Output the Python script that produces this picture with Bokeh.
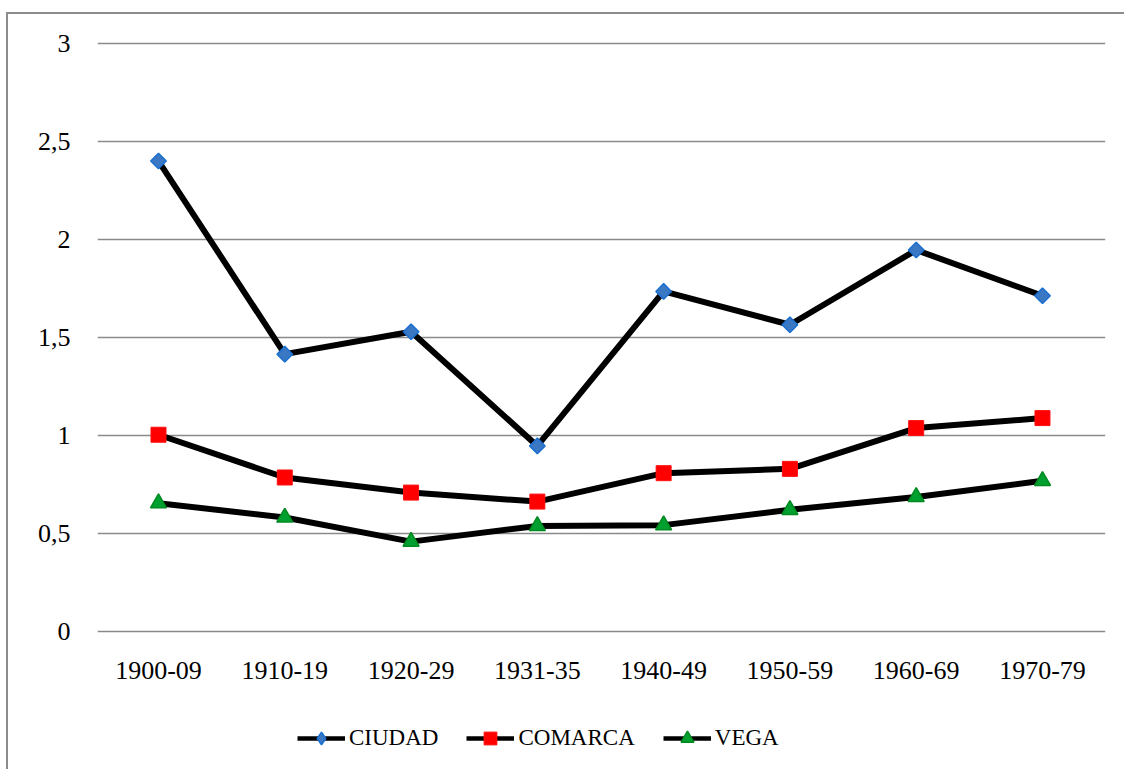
import math
from bokeh.plotting import figure
from bokeh.layouts import column
from bokeh.models import Range1d, FixedTicker, Legend, LegendItem
from bokeh.embed import file_html
from bokeh.resources import INLINE

periods = ["1900-09", "1910-19", "1920-29", "1931-35", "1940-49", "1950-59", "1960-69", "1970-79"]
ciudad = [2.40, 1.415, 1.529, 0.947, 1.735, 1.565, 1.946, 1.713]
comarca = [1.004, 0.786, 0.709, 0.663, 0.808, 0.830, 1.038, 1.089]
vega = [0.655, 0.582, 0.459, 0.539, 0.543, 0.621, 0.687, 0.769]
series_names = ["CIUDAD", "COMARCA", "VEGA"]
y_ticks = [0, 0.5, 1, 1.5, 2, 2.5, 3]
y_labels = {0: "0", 0.5: "0,5", 1: "1", 1.5: "1,5", 2: "2", 2.5: "2,5", 3: "3"}

xs = list(range(len(periods)))
FONT = "Liberation Serif"
LW = 6

styles = [
    dict(marker="square", angle=math.pi / 4, size=11, fill_color="#3b78c4", line_color="#1a6fd0", line_width=1.5),
    dict(marker="square", angle=0.0, size=15, fill_color="#ff0000", line_color="#ff1010", line_width=1),
    dict(marker="triangle", angle=0.0, size=16, fill_color="#00a030", line_color="#008a20", line_width=1.5),
]
legend_styles = [
    dict(marker="diamond", size=14, fill_color="#3b78c4", line_color="#1a6fd0", line_width=1.5),
    dict(marker="square", size=14, fill_color="#ff0000", line_color="#ff1010", line_width=1),
    dict(marker="triangle", size=14, fill_color="#00a030", line_color="#008a20", line_width=1.5),
]
all_series = [ciudad, comarca, vega]

# ---------------- main chart ----------------
p = figure(width=1116, height=676, output_backend="svg", toolbar_location=None,
           x_range=Range1d(-0.483, 7.499), y_range=Range1d(-0.025, 3.025),
           min_border_left=89, min_border_right=19, min_border_top=24, min_border_bottom=54)
p.outline_line_color = None
p.background_fill_color = "white"
p.border_fill_color = "white"

p.xaxis.ticker = FixedTicker(ticks=xs)
p.xaxis.major_label_overrides = {i: s for i, s in enumerate(periods)}
p.yaxis.ticker = FixedTicker(ticks=y_ticks)
p.yaxis.major_label_overrides = y_labels
for ax in (p.xaxis, p.yaxis):
    ax.axis_line_color = None
    ax.major_tick_line_color = None
    ax.minor_tick_line_color = None
    ax.major_tick_in = 0
    ax.major_tick_out = 0
    ax.major_label_text_font = FONT
    ax.major_label_text_font_size = "26px"
    ax.major_label_text_color = "black"
p.xaxis.major_label_standoff = 25
p.yaxis.major_label_standoff = 27

p.xgrid.grid_line_color = None
p.ygrid.ticker = FixedTicker(ticks=y_ticks)
p.ygrid.grid_line_color = "#8a8a8a"
p.ygrid.grid_line_width = 1.6

for vals, st in zip(all_series, styles):
    p.line(xs, vals, line_color="black", line_width=LW)
    p.scatter(xs, vals, **st)

# ---------------- legend strip ----------------
# proxy renderers use the real data but lie outside this strip's view
q = figure(width=1116, height=79, output_backend="svg", toolbar_location=None,
           x_range=Range1d(100, 101), y_range=Range1d(100, 101),
           x_axis_type=None, y_axis_type=None,
           min_border_left=0, min_border_right=0, min_border_top=0, min_border_bottom=0)
q.outline_line_color = None
q.xgrid.visible = False
q.ygrid.visible = False
q.background_fill_color = "white"
q.border_fill_color = "white"

items = []
for name, vals, st in zip(series_names, all_series, legend_styles):
    lr = q.line(xs, vals, line_color="black", line_width=4.5)
    mr = q.scatter(xs, vals, **st)
    items.append(LegendItem(label=name, renderers=[lr, mr]))

legend = Legend(items=items, location=(200, 15), orientation="horizontal")
legend.border_line_color = None
legend.background_fill_alpha = 0
legend.padding = 0
legend.margin = 0
legend.spacing = 28
legend.glyph_width = 48
legend.glyph_height = 32
legend.label_height = 32
legend.label_standoff = 4
legend.label_text_font = FONT
legend.label_text_font_size = "23px"
legend.label_text_color = "black"
q.add_layout(legend, "center")

layout = column(p, q, spacing=0)
layout.styles = {"margin-left": "6px", "margin-top": "12px",
                 "border-left": "2px solid #8c8c8c", "border-top": "2px solid #8c8c8c"}

open("out.html", "w").write(file_html(layout, INLINE))
